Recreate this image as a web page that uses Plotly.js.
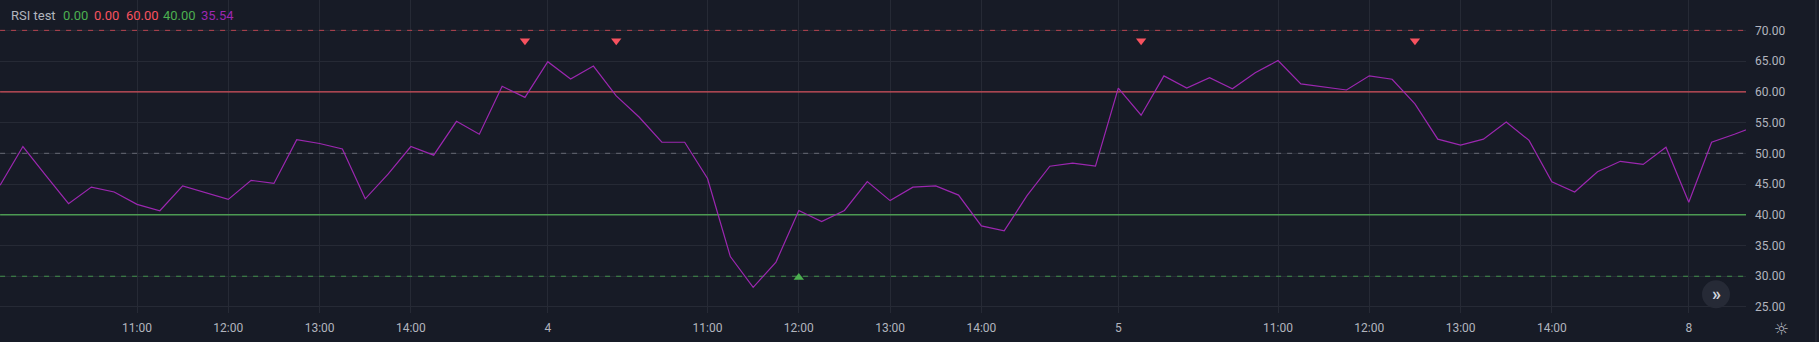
<!DOCTYPE html>
<html>
<head>
<meta charset="utf-8">
<script src="https://cdn.plot.ly/plotly-3.0.1.min.js"></script>
<style>
  html, body { margin: 0; padding: 0; background: #171b26; }
  #chart { width: 1819px; height: 342px; }
</style>
</head>
<body>
<div id="chart"></div>
<script>
// ---- data ----
const days = ['3', '4', '5', '8'];
const sessionTimes = ['09:15','09:30','09:45','10:00','10:15','10:30','10:45','11:00','11:15','11:30',
  '11:45','12:00','12:15','12:30','12:45','13:00','13:15','13:30','13:45','14:00',
  '14:15','14:30','14:45','15:00','15:15'];
// visible bars per day (day 3 starts at 09:30, day 8 ends at 10:00)
const dayBarTimes = {
  '3': sessionTimes.slice(1),
  '4': sessionTimes,
  '5': sessionTimes,
  '8': ['09:15','09:30','09:45','10:00']
};
const barLabels = [];
days.forEach(d => dayBarTimes[d].forEach(t => barLabels.push(d + ' ' + t)));

const rsiValues = [
  44.8, 51.1, 46.4, 41.8, 44.5, 43.7, 41.7, 40.65, 44.7, 43.6,
  42.5, 45.6, 45.1, 52.2, 51.6, 50.7, 42.6, 46.6, 51.1, 49.7,
  55.2, 53.1, 60.9, 59.1, 64.9, 62.1, 64.2, 59.35, 55.9, 51.8,
  51.8, 45.9, 33.2, 28.2, 32.3, 40.7, 38.9, 40.7, 45.4, 42.3,
  44.5, 44.7, 43.2, 38.2, 37.4, 43.1, 47.9, 48.4, 47.9, 60.6,
  56.2, 62.6, 60.6, 62.3, 60.5, 63.1, 65.1, 61.3, 60.8, 60.3,
  62.6, 62.05, 58.05, 52.3, 51.35, 52.3, 55.1, 52.1, 45.35, 43.7,
  47.0, 48.7, 48.2, 51.0, 42.05, 51.8, 53.1, 54.5
];

const sellSignalBars = ['3 15:15', '4 10:00', '5 09:30', '5 12:30'];
const sellSignalY = [68.3, 68.3, 68.3, 68.3];
const buySignalBars = ['4 12:00'];
const buySignalY = [29.8];

const levels = [70, 60, 50, 40, 30];
const levelColors = ['#b8444f', '#d4515b', '#676a75', '#4c9a52', '#42924b'];
const levelDash = ['5px,6px', 'solid', '5px,6px', 'solid', '5px,6px'];
const levelWidths = [1, 1.3, 1, 1.3, 1];

const tickBars = ['3 11:00','3 12:00','3 13:00','3 14:00','4 09:15','4 11:00','4 12:00','4 13:00','4 14:00',
  '5 09:15','5 11:00','5 12:00','5 13:00','5 14:00','8 09:15'];
const tickLabels = ['11:00','12:00','13:00','14:00','4','11:00','12:00','13:00','14:00',
  '5','11:00','12:00','13:00','14:00','8'];
const yTicks = [25, 30, 35, 40, 45, 50, 55, 60, 65, 70];

const legendName = 'RSI test';
const legendValues = ['0.00', '0.00', '60.00', '40.00', '35.54'];
const legendColors = ['#4caf50', '#f7525f', '#f7525f', '#4caf50', '#9c27b0'];
const legendOffsets = [63, 94, 125.5, 163, 201];

// ---- drawing ----
const FONT = 'Roboto, "Noto Sans", "DejaVu Sans", sans-serif';
const W = 1819, H = 342, ML = 0, MR = 73, MT = 0, MB = 29;
const PW = W - ML - MR, PH = H - MT - MB;

const firstBar = barLabels[0], lastBar = barLabels[barLabels.length - 1];
const traces = levels.map((v, k) => ({
  x: [firstBar, lastBar], y: [v, v], type: 'scatter', mode: 'lines',
  line: { color: levelColors[k], width: levelWidths[k], dash: levelDash[k] }, hoverinfo: 'skip'
}));
traces.push(
  {
    x: barLabels, y: rsiValues, type: 'scatter', mode: 'lines',
    line: { color: '#9c27b0', width: 1.2 }, hoverinfo: 'skip'
  },
  {
    x: sellSignalBars, y: sellSignalY, type: 'scatter', mode: 'markers',
    marker: { symbol: 'triangle-down', size: 9, color: '#f7525f', line: { width: 0 } },
    hoverinfo: 'skip', cliponaxis: false
  },
  {
    x: buySignalBars, y: buySignalY, type: 'scatter', mode: 'markers',
    marker: { symbol: 'triangle-up', size: 9, color: '#4caf50', line: { width: 0 } },
    hoverinfo: 'skip', cliponaxis: false
  }
);

const shapes = [];
// right border of price scale
shapes.push({ type: 'line', xref: 'paper', yref: 'paper', x0: (1816 - ML) / PW, x1: (1816 - ML) / PW,
  y0: -MB / PH, y1: 1, line: { color: '#2a2e39', width: 1 } });
// scroll button circle
const bx = 1716, by = 294.3, br = 14;
shapes.push({ type: 'circle', xref: 'paper', yref: 'paper',
  x0: (bx - br - ML) / PW, x1: (bx + br - ML) / PW,
  y0: 1 - (by + br - MT) / PH, y1: 1 - (by - br - MT) / PH,
  fillcolor: '#262a36', line: { width: 0 } });

const annotations = [];
annotations.push({ xref: 'paper', yref: 'paper', x: 0, y: 1, xanchor: 'left', yanchor: 'middle',
  xshift: 9, yshift: -15, text: legendName, showarrow: false,
  font: { family: FONT, size: 13, color: '#b2b5be' } });
legendValues.forEach((t, k) => annotations.push({ xref: 'paper', yref: 'paper', x: 0, y: 1,
  xanchor: 'left', yanchor: 'middle', xshift: legendOffsets[k] - 2, yshift: -15, text: t, showarrow: false,
  font: { family: FONT, size: 13, color: legendColors[k] } }));
// partially visible top price label
annotations.push({ xref: 'paper', yref: 'y', x: 1, y: 75, xanchor: 'left', yanchor: 'middle',
  xshift: 8, text: '75.00', showarrow: false, font: { family: FONT, size: 12, color: '#b2b5be' } });
// scroll button glyph
annotations.push({ xref: 'paper', yref: 'paper', x: (bx - ML) / PW, y: 1 - (by - MT) / PH,
  xanchor: 'center', yanchor: 'middle', yshift: 1, text: '<b>»</b>', showarrow: false,
  font: { family: FONT, size: 18, color: '#d1d4dc' } });
// settings icon
annotations.push({ xref: 'paper', yref: 'paper', x: (1781.7 - ML) / PW, y: 1 - (329 - MT) / PH,
  xanchor: 'center', yanchor: 'middle', text: '☼', showarrow: false,
  font: { family: '"DejaVu Sans", sans-serif', size: 17, color: '#b2b5be' } });

const layout = {
  width: W, height: H,
  margin: { l: ML, r: MR, t: MT, b: MB, pad: 0 },
  paper_bgcolor: '#171b26', plot_bgcolor: '#171b26',
  showlegend: false, hovermode: false,
  xaxis: {
    type: 'category', categoryorder: 'array', categoryarray: barLabels,
    range: [-0.0044, 76.507], tickmode: 'array', tickvals: tickBars, ticktext: tickLabels,
    showgrid: true, gridcolor: '#262a35', gridwidth: 1, zeroline: false, showline: false,
    ticks: '', ticklabelstandoff: 6, tickangle: 0,
    tickfont: { family: FONT, size: 12, color: '#b2b5be' }, fixedrange: true
  },
  yaxis: {
    side: 'right', range: [24.02, 74.94], tickmode: 'array', tickvals: yTicks,
    ticktext: yTicks.map(v => v.toFixed(2)),
    showgrid: true, gridcolor: '#262a35', gridwidth: 1, zeroline: false, showline: false,
    ticks: '', ticklabelstandoff: 8,
    tickfont: { family: FONT, size: 12, color: '#b2b5be' }, fixedrange: true
  },
  shapes: shapes,
  annotations: annotations
};

Plotly.newPlot('chart', traces, layout, { staticPlot: true, displayModeBar: false });
</script>
</body>
</html>
